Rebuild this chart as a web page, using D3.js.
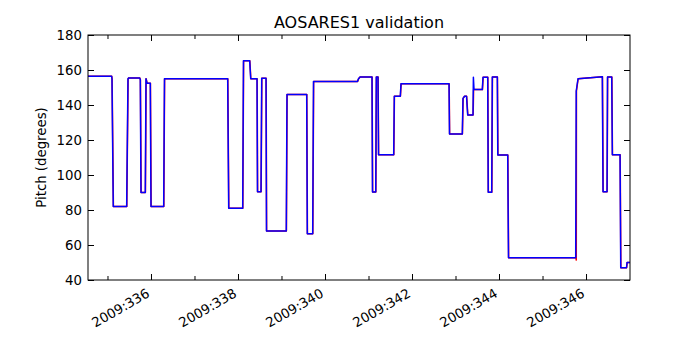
<!DOCTYPE html>
<html>
<head>
<meta charset="utf-8">
<style>
  body { margin: 0; background: #fff; }
  svg text { font-family: 'DejaVu Sans', sans-serif; fill: #000; }
  .tick-label { font-size: 13.3px; }
  .title { font-size: 16px; text-anchor: middle; }
  .ylabel { font-size: 13.3px; text-anchor: middle; }
</style>
</head>
<body>
<div id="chart"></div>
<script src="https://cdn.jsdelivr.net/npm/d3@7"></script>
<script>
// x = day of year 2009, y = pitch in degrees
var blueSeries = [
  [334.552,156.5],[335.095,156.5],[335.103,155],[335.133,82],[335.441,82],[335.471,155],[335.49,155.5],
  [335.74,155.5],[335.754,154.5],[335.770,90],[335.869,90],[335.885,155],[335.908,152.5],[335.984,152.5],
  [336.000,82],[336.292,82],[336.310,155],[337.763,155],[337.786,81],[338.108,81],[338.126,165.3],
  [338.269,165.3],[338.292,155],[338.437,155],[338.448,90.5],[338.529,90.5],[338.545,155.3],[338.644,155.3],
  [338.655,68],[339.110,68],[339.126,146],[339.579,146],[339.593,66.5],[339.717,66.5],[339.736,153.5],
  [340.747,153.5],[340.77,155],[340.805,156],[341.080,156],[341.092,90.3],[341.166,90.3],[341.179,156],
  [341.218,156],[341.230,111.6],[341.579,111.6],[341.593,145],[341.731,145],[341.747,152.2],[342.851,152.2],
  [342.862,123.4],[343.156,123.4],[343.172,143.8],[343.207,145],[343.253,145],[343.280,134.3],[343.402,134.3],
  [343.411,155.8],[343.425,148.8],[343.616,148.8],[343.632,155.8],[343.740,155.8],[343.752,90.1],[343.832,90.1],
  [343.846,156],[343.961,156],[343.972,111.4],[344.200,111.4],[344.218,52.7],[345.763,52.7],[345.775,148],
  [345.816,155],[346.375,156.2],[346.391,90.5],[346.483,90.5],[346.494,156],[346.591,156],[346.605,111.6],
  [346.782,111.6],[346.798,47],[346.931,47],[346.943,50],[347.011,50]
];
var redSeries = [
  [334.552,156.4],[335.098,156.4],[335.106,155],[335.136,82],[335.444,82],[335.474,155],[335.493,155.5],
  [335.743,155.5],[335.757,154.5],[335.773,90],[335.872,90],[335.888,155],[335.911,152.5],[335.987,152.5],
  [336.003,82],[336.295,82],[336.313,155],[337.766,155],[337.789,81],[338.111,81],[338.129,165.3],
  [338.272,165.3],[338.295,155],[338.440,155],[338.451,90.5],[338.532,90.5],[338.548,155.3],[338.647,155.3],
  [338.658,68],[339.113,68],[339.129,146],[339.582,146],[339.596,66.5],[339.720,66.5],[339.739,153.5],
  [340.750,153.5],[340.773,155],[340.808,156],[341.083,156],[341.095,90.3],[341.169,90.3],[341.182,156],
  [341.221,156],[341.233,111.6],[341.582,111.6],[341.596,145],[341.734,145],[341.750,152.2],[342.854,152.2],
  [342.865,123.4],[343.159,123.4],[343.175,143.8],[343.210,145],[343.256,145],[343.283,134.3],[343.405,134.3],
  [343.416,148.8],[343.619,148.8],[343.635,155.8],[343.743,155.8],[343.755,90.1],[343.835,90.1],
  [343.849,156],[343.964,156],[343.975,111.4],[344.203,111.4],[344.221,52.7],[345.768,52.7],[345.776,51.4],
  [345.780,148],[345.819,155],[346.378,156.2],[346.394,90.5],[346.486,90.5],[346.497,156],[346.594,156],
  [346.608,111.6],[346.785,111.6],[346.801,47],[346.934,47],[346.946,50],[347.011,50]
];
var xMajorTicks = [336, 338, 340, 342, 344, 346];
var xMinorTicks = [335, 337, 339, 341, 343, 345];
var yTicks = [40, 60, 80, 100, 120, 140, 160, 180];
var xDomain = [334.552, 347.011];
var yDomain = [40, 180];

var width = 700, height = 350;
var margin = {top: 35, right: 70, bottom: 70, left: 88};
var plotW = width - margin.left - margin.right,
    plotH = height - margin.top - margin.bottom;

var svg = d3.select("#chart").append("svg")
  .attr("width", width)
  .attr("height", height);

var x = d3.scaleLinear().domain(xDomain).range([0, plotW]);
var y = d3.scaleLinear().domain(yDomain).range([plotH, 0]);

var g = svg.append("g").attr("transform", "translate(" + margin.left + "," + margin.top + ")");

g.append("clipPath").attr("id", "clip")
  .append("rect").attr("width", plotW).attr("height", plotH);

var line = d3.line()
  .x(function(d) { return x(d[0]); })
  .y(function(d) { return y(d[1]); });

var lines = g.append("g").attr("clip-path", "url(#clip)");
lines.append("path").datum(redSeries)
  .attr("d", line).attr("fill", "none")
  .attr("stroke", "#ff0000").attr("stroke-width", 1.5).attr("stroke-linejoin", "round");
lines.append("path").datum(blueSeries)
  .attr("d", line).attr("fill", "none")
  .attr("stroke", "#0000ff").attr("stroke-width", 1.5).attr("stroke-linejoin", "round");

// frame
g.append("rect")
  .attr("width", plotW).attr("height", plotH)
  .attr("fill", "none").attr("stroke", "#000").attr("stroke-width", 1);

// inward ticks, all four sides (matplotlib classic look)
function inTicks(axisFn, scale, values, size, transform) {
  var a = g.append("g").attr("transform", transform)
    .call(axisFn(scale).tickValues(values).tickSize(size).tickFormat(""));
  a.select(".domain").remove();
  a.selectAll("line").attr("stroke", "#000");
  return a;
}
inTicks(d3.axisTop, x, xMajorTicks, 6, "translate(0," + plotH + ")");
inTicks(d3.axisTop, x, xMinorTicks, 4, "translate(0," + plotH + ")");
inTicks(d3.axisBottom, x, xMajorTicks, 6, "translate(0,0)");
inTicks(d3.axisBottom, x, xMinorTicks, 4, "translate(0,0)");
inTicks(d3.axisRight, y, yTicks, 6, "translate(0,0)");
inTicks(d3.axisLeft, y, yTicks, 6, "translate(" + plotW + ",0)");

// y tick labels
g.selectAll(".ylab").data(yTicks).enter().append("text")
  .attr("class", "tick-label")
  .attr("x", -6)
  .attr("y", function(d) { return y(d); })
  .attr("dy", "0.36em")
  .attr("text-anchor", "end")
  .text(function(d) { return d; });

// x tick labels, rotated 30 degrees
g.selectAll(".xlab").data(xMajorTicks).enter().append("text")
  .attr("class", "tick-label")
  .attr("text-anchor", "end")
  .attr("transform", function(d) {
    return "translate(" + (x(d) - 0.5) + "," + (plotH + 16) + ") rotate(-30)";
  })
  .text(function(d) { return "2009:" + d; });

svg.append("text")
  .attr("class", "title")
  .attr("x", margin.left + plotW / 2)
  .attr("y", 28)
  .text("AOSARES1 validation");

svg.append("text")
  .attr("class", "ylabel")
  .attr("transform", "translate(46," + (margin.top + plotH / 2) + ") rotate(-90)")
  .text("Pitch (degrees)");
</script>
</body>
</html>
